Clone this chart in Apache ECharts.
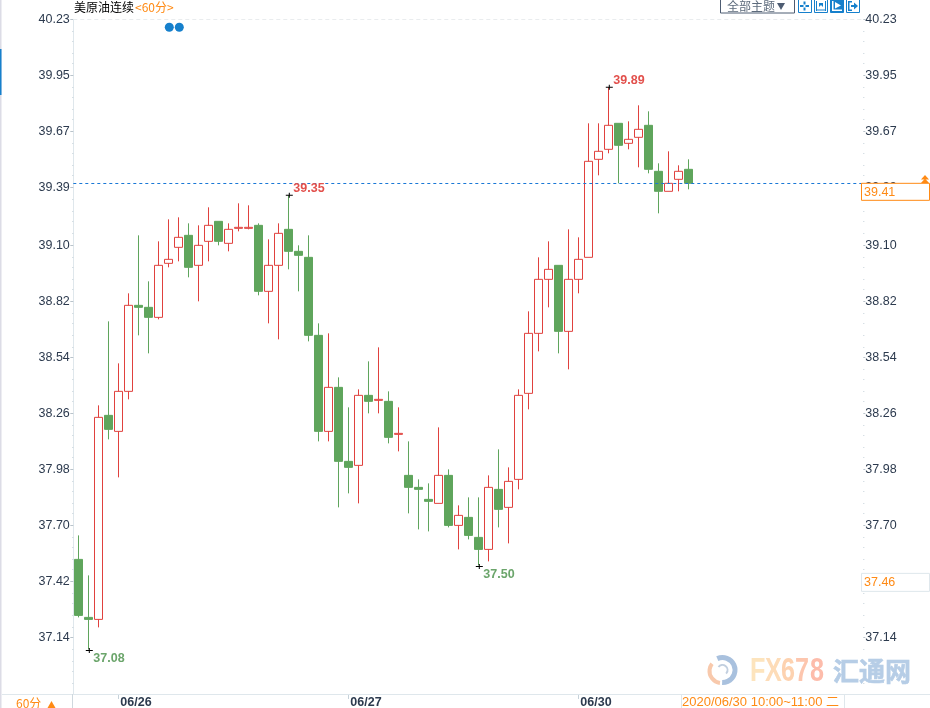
<!DOCTYPE html>
<html>
<head>
<meta charset="utf-8">
<style>
  html, body { margin: 0; padding: 0; background: #fff; }
  #chart { width: 930px; height: 708px; }
</style>
<script src="https://cdn.jsdelivr.net/npm/echarts@6/dist/echarts.min.js"></script>
</head>
<body>
<div id="chart"></div>
<script>
// one row per hourly bar, left to right
const opens = [37.53, 37.24, 37.23, 38.25, 38.17, 38.37, 38.80, 38.79, 38.74, 39.01, 39.09, 39.15, 39.00, 39.12, 39.22, 39.11, 39.185, 39.185, 39.20, 38.87, 39.00, 39.18, 39.07, 39.04, 38.65, 38.17, 38.39, 38.02, 38.00, 38.35, 38.325, 38.32, 38.155, 37.95, 37.89, 37.83, 37.81, 37.95, 37.70, 37.74, 37.64, 37.58, 37.88, 37.79, 37.93, 38.36, 38.66, 38.93, 39.00, 38.67, 38.93, 39.04, 39.53, 39.58, 39.71, 39.61, 39.64, 39.70, 39.47, 39.37, 39.43, 39.48]
const closes = [37.25, 37.23, 38.24, 38.18, 38.37, 38.80, 38.79, 38.74, 39.00, 39.03, 39.14, 38.99, 39.10, 39.20, 39.12, 39.18, 39.19, 39.19, 38.87, 39.00, 39.16, 39.07, 39.05, 38.65, 38.17, 38.39, 38.02, 37.99, 38.35, 38.32, 38.33, 38.14, 38.16, 37.89, 37.88, 37.82, 37.95, 37.70, 37.75, 37.65, 37.58, 37.89, 37.78, 37.92, 38.35, 38.66, 38.93, 38.98, 38.67, 38.93, 39.03, 39.52, 39.57, 39.70, 39.60, 39.63, 39.68, 39.48, 39.37, 39.41, 39.47, 39.41]
const lows = [37.24, 37.08, 37.19, 38.13, 37.94, 38.33, 38.65, 38.56, 38.73, 38.99, 39.02, 38.94, 38.82, 39.02, 39.10, 39.07, 39.17, 39.18, 38.85, 38.71, 38.63, 38.98, 38.87, 38.62, 38.12, 38.12, 37.79, 37.86, 37.81, 38.26, 38.26, 38.11, 38.07, 37.76, 37.68, 37.67, 37.81, 37.69, 37.58, 37.63, 37.50, 37.52, 37.69, 37.61, 37.88, 38.28, 38.57, 38.79, 38.56, 38.48, 38.86, 39.04, 39.45, 39.56, 39.41, 39.58, 39.49, 39.46, 39.26, 39.37, 39.37, 39.38]
const highs = [37.65, 37.45, 38.30, 38.72, 38.51, 38.86, 39.15, 38.92, 39.12, 39.23, 39.24, 39.21, 39.20, 39.29, 39.22, 39.21, 39.31, 39.30, 39.21, 39.13, 39.21, 39.35, 39.10, 39.15, 38.71, 38.66, 38.44, 38.29, 38.38, 38.52, 38.59, 38.37, 38.29, 38.12, 37.93, 37.91, 38.19, 37.98, 37.80, 37.84, 37.84, 37.95, 38.08, 37.99, 38.38, 38.77, 39.04, 39.12, 39.00, 39.18, 39.14, 39.71, 39.71, 39.89, 39.71, 39.72, 39.80, 39.77, 39.51, 39.57, 39.50, 39.53]

const emptyBars = 17 // room to the right of the last bar
const leftTicks = ['40.23', '39.95', '39.67', '39.39', '39.10', '38.82', '38.54', '38.26', '37.98', '37.70', '37.42', '37.14']
const minorTicks = [40.17, 40.12, 40.06, 40.01, 39.89, 39.84, 39.78, 39.73, 39.61, 39.56, 39.50, 39.45, 39.33, 39.27, 39.22, 39.16, 39.04, 38.99, 38.93, 38.88, 38.76, 38.71, 38.65, 38.59, 38.48, 38.43, 38.37, 38.32, 38.20, 38.15, 38.09, 38.04, 37.92, 37.87, 37.81, 37.76, 37.64, 37.59, 37.53, 37.48, 37.36, 37.31, 37.25, 37.19, 37.08, 37.02, 36.97, 36.91]
const dateBars = [4, 27, 50]
const dateLabels = ['06/26', '06/27', '06/30']
const extremes = [
  { bar: 1, price: 37.08, below: true },
  { bar: 21, price: 39.35, below: false },
  { bar: 40, price: 37.50, below: true },
  { bar: 53, price: 39.89, below: false }
]
const eventBars = [9, 10]
const eventPrice = 40.19
const lastPrice = 39.41
const otherPrice = 37.46
const topLine = 40.23

const axisMax = 40.23
const axisMin = 36.857

const RED = '#e0413e'
const GREEN = '#5fa55c'
const ORANGE = '#ff8a14'
const BLUE = '#1680cc'
const INK = '#2c3a4e'
const EDGE = '#dfe7ec'
const FONT = '"Liberation Sans", Arial, sans-serif'

const chart = echarts.init(document.getElementById('chart'), null, { renderer: 'canvas' })

const categories = opens.map((_, i) => String(i)).concat(new Array(emptyBars).fill('').map((_, i) => String(opens.length + i)))
const candles = opens.map((o, i) => [o, closes[i], lows[i], highs[i]])

function priceAxis(position, showLabel, tickValues, tickLen) {
  return {
    type: 'value',
    position,
    min: axisMin,
    max: axisMax,
    scale: true,
    splitLine: { show: false },
    axisLine: { show: position === 'left' && showLabel, lineStyle: { color: EDGE } },
    axisTick: {
      show: true,
      customValues: tickValues,
      length: tickLen,
      lineStyle: { color: showLabel ? '#b9c3cb' : '#c6d2da' }
    },
    axisLabel: {
      show: showLabel,
      customValues: leftTicks.map(Number),
      formatter: (v) => v.toFixed(2),
      color: INK,
      fontFamily: FONT,
      fontSize: 12.5,
      margin: position === 'left' ? 3.5 : 2,
      hideOverlap: false
    }
  }
}

const extremeMarks = extremes.map((e) => ({
  coord: [e.bar, e.price],
  symbol: 'path://M0 2H3V0H4V2H7V3H4V5H3V3H0Z',
  symbolSize: [7, 5],
  symbolOffset: [1, e.below ? 1 : 0],
  itemStyle: { color: '#000' },
  value: e.price.toFixed(2),
  label: {
    show: true,
    position: 'inside',
    formatter: e.price.toFixed(2),
    align: 'left',
    verticalAlign: 'middle',
    offset: [4, e.below ? 8 : -7],
    color: e.below ? '#6ba56b' : '#e2504c',
    fontFamily: FONT,
    fontSize: 12.5,
    fontWeight: 'bold'
  }
}))

chart.setOption({
  animation: false,
  backgroundColor: '#fff',
  // v6 would otherwise shrink the grid to keep the bottom labels on the canvas
  grid: { left: 73.3, right: 66.7, top: 19.3, bottom: 14, containLabel: false, outerBoundsMode: 'none' },
  xAxis: {
    type: 'category',
    data: categories,
    boundaryGap: true,
    axisLine: { show: true, lineStyle: { color: EDGE } },
    axisTick: {
      show: true,
      alignWithLabel: true,
      interval: (i) => dateBars.includes(i),
      length: 5,
      lineStyle: { color: '#c6d2da' }
    },
    axisLabel: {
      interval: (i) => dateBars.includes(i),
      formatter: (v, i) => dateLabels[dateBars.indexOf(i)] || '',
      align: 'left',
      padding: [0, 0, 0, 2],
      margin: 2,
      color: INK,
      fontFamily: FONT,
      fontSize: 12.5,
      fontWeight: 'bold'
    },
    splitLine: { show: false }
  },
  yAxis: [
    priceAxis('left', true, leftTicks.map(Number), 3),
    priceAxis('right', true, leftTicks.map(Number), 2),
    priceAxis('left', false, minorTicks, 1),
    priceAxis('right', false, minorTicks, 1)
  ],
  series: [
    {
      type: 'candlestick',
      data: candles,
      barWidth: 8,
      clip: false,
      itemStyle: {
        color: '#fff',
        color0: GREEN,
        borderColor: RED,
        borderColor0: GREEN,
        borderWidth: 1
      },
      markPoint: { data: extremeMarks, animation: false, z: 5 },
      markLine: {
        silent: true,
        symbol: 'none',
        animation: false,
        label: { show: false },
        data: [
          { yAxis: lastPrice, lineStyle: { color: '#1a78d6', type: [3, 3], width: 1 } },
          { yAxis: topLine, lineStyle: { color: '#e9ecee', type: [4, 3], width: 1 } }
        ]
      }
    },
    {
      type: 'scatter',
      data: eventBars.map((b) => [b, eventPrice]),
      symbolSize: 9,
      symbolOffset: [1, 0],
      itemStyle: { color: BLUE, opacity: 1 }
    }
  ]
})

// price boxes, toolbar and watermark sit on top of the axes
const yLast = chart.convertToPixel({ yAxisIndex: 0 }, lastPrice)
const yOther = chart.convertToPixel({ yAxisIndex: 0 }, otherPrice)

function label(text, x, y, color, size, extra) {
  return {
    type: 'text', z: 20, x, y,
    style: Object.assign({ text, fill: color, font: `${size}px ${FONT}`, verticalAlign: 'middle' }, extra || {})
  }
}
function rect(x, y, w, h, stroke, fill, z) {
  return { type: 'rect', z: z || 20, shape: { x, y, width: w, height: h }, style: { stroke, fill: fill || 'none', lineWidth: 1 } }
}
function poly(points, fill) {
  return { type: 'polygon', z: 21, shape: { points }, style: { fill } }
}

function toolIcon(x, active) {
  const c = active ? '#fff' : BLUE
  return [rect(x + 0.5, -1, 13, 13.5, BLUE, active ? BLUE : '#fff', 20)].concat(iconBits[x](c))
}
const iconBits = {
  798: (c) => [
    rect(803.5, 1.5, 2, 3, null, c, 21), rect(803.5, 7.5, 2, 3, null, c, 21),
    rect(800, 5, 3.5, 2, null, c, 21), rect(805.5, 5, 3.5, 2, null, c, 21)
  ],
  814: (c) => [
    rect(816, 1, 1, 10, null, c, 21), rect(825, 1, 1, 10, null, c, 21),
    rect(817, 9.5, 8, 1, null, c, 21), poly([[819, 3], [823, 3], [823, 7], [821, 5], [819, 7]], c)
  ],
  830: (c) => [
    rect(832, 1, 1.5, 10, null, c, 21), rect(832, 9.5, 10, 1.5, null, c, 21),
    poly([[835, 2], [841, 5.5], [835, 8.5]], c)
  ],
  846: (c) => [
    rect(848, 1, 1.5, 10, null, c, 21), rect(848, 1, 4, 1.5, null, c, 21), rect(848, 9.5, 4, 1.5, null, c, 21),
    rect(851, 5, 3, 2, null, c, 21), poly([[854, 2.5], [858, 6], [854, 9.5]], c)
  ]
}

// watermark letters are squeezed by hand, there is no narrow bold face to lean on
const fxLetters = ['F', 'X', '6', '7', '8']
const fxLeft = [750, 765, 781, 795, 810]
const fxColors = ['#fde4bd', '#fddcb8', '#fdd2b0', '#fdc6ae', '#fdbcab']
const fxMarks = fxLetters.map((t, i) => ({
  type: 'text', z: 3, x: fxLeft[i], y: 672, scaleX: 0.74,
  style: { text: t, fill: fxColors[i], font: `bold 34px ${FONT}`, verticalAlign: 'middle' }
}))

const cx = 721.5, cy = 670
const overlay = [
  // left window edge
  rect(0, 0, 1.5, 708, null, '#dcdce6', 1),
  rect(0, 49, 1.5, 46, null, BLUE, 2),

  // title
  label('美原油连续', 74, 7.5, '#000', 12, { font: `12px "Noto Sans CJK SC", ${FONT}` }),
  label('<60分>', 135, 7.5, ORANGE, 12, { font: `12px "Noto Sans CJK SC", ${FONT}` }),

  // toolbar
  rect(720.5, -1, 74, 14, '#4d5c72', '#fff'),
  label('全部主题', 727, 6.5, '#5d6b7c', 12, { font: `12px "Noto Sans CJK SC", ${FONT}` }),
  poly([[777, 3], [785, 3], [781, 10]], '#4d5c72'),
  ...toolIcon(798, false),
  ...toolIcon(814, false),
  ...toolIcon(830, true),
  ...toolIcon(846, false),

  // price boxes on the right
  rect(861.5, yLast, 68, 17, ORANGE, '#fff'),
  label(lastPrice.toFixed(2), 864, yLast + 9.5, ORANGE, 12.5),
  poly([[925, 175], [929, 179.5], [921, 179.5]], ORANGE),
  poly([[925, 178.5], [929, 183], [921, 183]], ORANGE),
  rect(861.5, yOther, 68, 18, EDGE, '#fff'),
  label(otherPrice.toFixed(2), 864, yOther + 9.5, ORANGE, 12.5),

  // bottom strip
  { type: 'line', z: 20, shape: { x1: 2, y1: 694.5, x2: 930, y2: 694.5 }, style: { stroke: EDGE, lineWidth: 1 } },
  { type: 'line', z: 20, shape: { x1: 72.5, y1: 694, x2: 72.5, y2: 708 }, style: { stroke: '#cfd8de', lineWidth: 1 } },
  { type: 'line', z: 20, shape: { x1: 681.5, y1: 694, x2: 681.5, y2: 708 }, style: { stroke: EDGE, lineWidth: 1 } },
  { type: 'line', z: 20, shape: { x1: 844.5, y1: 694, x2: 844.5, y2: 708 }, style: { stroke: EDGE, lineWidth: 1 } },
  label('60分', 16, 703, ORANGE, 12, { font: `12px "Noto Sans CJK SC", ${FONT}` }),
  poly([[51.5, 701], [55.5, 708], [47.5, 708]], ORANGE),
  label('2020/06/30 10:00~11:00 二', 682, 702.5, ORANGE, 13, { font: `13px ${FONT}, "Noto Sans CJK SC"` }),

  // watermark
  { type: 'arc', z: 3, shape: { cx: cx + 1, cy, r: 12.5, startAngle: -2.0, endAngle: 1.6 }, style: { stroke: '#a9c1de', fill: 'none', lineWidth: 5 } },
  { type: 'arc', z: 3, shape: { cx, cy: cy + 1, r: 12, startAngle: 1.7, endAngle: 3.8 }, style: { stroke: '#f8c9ac', fill: 'none', lineWidth: 4 } },
  { type: 'arc', z: 3, shape: { cx: cx + 1, cy, r: 5, startAngle: -2.5, endAngle: 0.8 }, style: { stroke: '#c2cfdf', fill: 'none', lineWidth: 2 } },
  ...fxMarks,
  {
    type: 'text', z: 3, x: 833, y: 671,
    style: { text: '汇通网', fill: '#b6cde6', stroke: '#b6cde6', lineWidth: 0.6, font: 'bold 26px "Noto Sans CJK SC", sans-serif', verticalAlign: 'middle' }
  }
]

chart.setOption({ graphic: { elements: overlay } })
</script>
</body>
</html>
